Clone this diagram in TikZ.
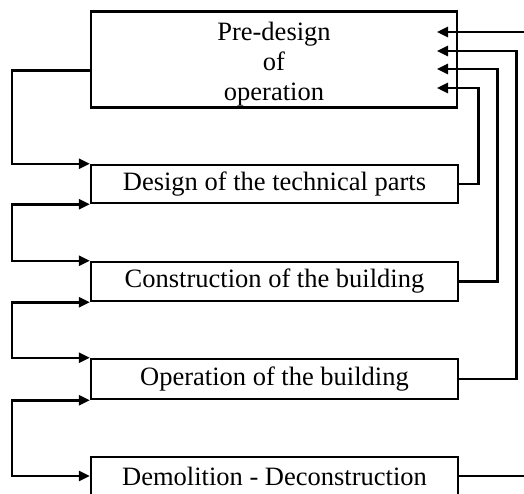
\documentclass[tikz,border=0pt]{standalone}
\usepackage{fontspec}
\setmainfont{Liberation Serif}
\usetikzlibrary{arrows.meta}
\begin{document}
\begin{tikzpicture}[x=1pt,y=-1pt,
  lw/.style={line width=2.5pt},
  box/.style={lw,draw,rectangle,inner sep=0pt,font=\fontsize{26.5}{30.5}\selectfont},
  txt/.style={inner sep=0pt,align=center,font=\fontsize{26.5}{30}\selectfont},
  tip/.style={-{Triangle[length=11pt,width=10pt]}},
  bothtip/.style={{Triangle[length=11pt,width=10pt]}-{Triangle[length=11pt,width=10pt]}},
  line join=miter]
\useasboundingbox (0,0) rectangle (524,493);
% boxes
\node[box,minimum width=366pt,minimum height=96pt] (pre) at (274,59.5) {};
\node[txt] (pretxt) at (274,64) {Pre-design\\of\\operation};
\node[box,minimum width=367pt,minimum height=38pt] (design) at (274.5,184) {Design of the technical parts};
\node[box,minimum width=367pt,minimum height=39pt] (constr) at (274.5,281.5) {Construction of the building};
\node[box,minimum width=367pt,minimum height=40pt] (oper) at (274.5,379) {Operation of the building};
\node[box,minimum width=367pt,minimum height=38pt] (demol) at (274.5,476) {Demolition - Deconstruction};
% arrow end points inside the top box
\coordinate (in1) at (437,32);
\coordinate (in2) at (437,51);
\coordinate (in3) at (437,69);
\coordinate (in4) at (437,88);
\coordinate (inR) at (526,32);
\coordinate (outR) at (526,476);
% left connectors
\draw[lw,tip] ([yshift=-11pt]pre.west) -- ++(-78,0) |- (design.north west);
\draw[lw,bothtip] (design.south west) -- ++(-78,0) |- (constr.north west);
\draw[lw,bothtip] (constr.south west) -- ++(-78,0) |- (oper.north west);
\draw[lw,bothtip] (oper.south west) -- ++(-78,0) |- (demol.west);
% right connectors
\draw[lw,tip] (design.east) -- ++(19,0) |- (in4);
\draw[lw,tip] (constr.east) -- ++(38,0) |- (in3);
\draw[lw,tip] (oper.east) -- ++(57,0) |- (in2);
\draw[lw,tip] (inR) -- (in1);
\draw[lw] (demol.east) -- (outR);
\end{tikzpicture}
\end{document}
